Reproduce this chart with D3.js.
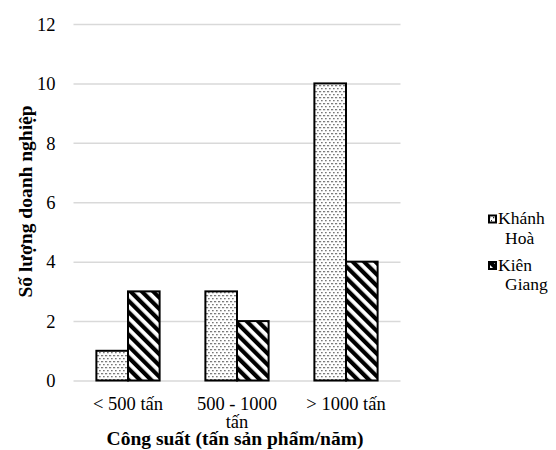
<!DOCTYPE html>
<html><head><meta charset="utf-8">
<script src="https://cdn.jsdelivr.net/npm/d3@7"></script>
<style>body{margin:0;background:#fff}svg{display:block}</style>
</head><body>
<script>
const categories = ["< 500 tấn", "500 - 1000 tấn", "> 1000 tấn"];
const categoryLines = [["< 500 tấn"], ["500 - 1000", "tấn"], ["> 1000 tấn"]];
const seriesNames = ["Khánh Hoà", "Kiên Giang"];
const legendLines = [["Khánh", "Hoà"], ["Kiên", "Giang"]];
const khanhHoa = [1, 3, 10];
const kienGiang = [3, 2, 4];
const yTicks = [0, 2, 4, 6, 8, 10, 12];
const yTitle = "Số lượng doanh nghiệp";
const xTitle = "Công suất (tấn sản phẩm/năm)";

const FONT = "'Liberation Serif', 'Times New Roman', Tinos, 'DejaVu Serif', serif";
const W = 556, H = 450;
const svg = d3.select("body").append("svg").attr("width", W).attr("height", H)
  .attr("font-family", FONT);
const defs = svg.append("defs");
const dots = defs.append("pattern").attr("id", "dots").attr("patternUnits", "userSpaceOnUse")
  .attr("width", 4).attr("height", 6);
dots.append("rect").attr("width", 4).attr("height", 6).attr("fill", "#fff");
dots.append("rect").attr("x", 1).attr("y", 1).attr("width", 1.3).attr("height", 1.3).attr("fill", "#222");
dots.append("rect").attr("x", 3).attr("y", 4).attr("width", 1.3).attr("height", 1.3).attr("fill", "#222");
const hatch = defs.append("pattern").attr("id", "hatch").attr("patternUnits", "userSpaceOnUse")
  .attr("width", 8).attr("height", 8).attr("patternTransform", "rotate(-45)");
hatch.append("rect").attr("width", 8).attr("height", 8).attr("fill", "#fff");
hatch.append("rect").attr("width", 4.2).attr("height", 8).attr("fill", "#000");
const fills = ["url(#dots)", "url(#hatch)"];

const x0 = d3.scaleBand().domain(categories).range([73.5, 400.5]).paddingInner(0.42).paddingOuter(0.21);
const x1 = d3.scaleBand().domain(seriesNames).range([0, x0.bandwidth()]);
const y = d3.scaleLinear().domain([0, 12]).range([380.5, 24]);

const yAxis = d3.axisLeft(y).tickValues(yTicks).tickSize(-(400.5 - 73.5)).tickPadding(18).tickFormat(d3.format("d"));
const gy = svg.append("g").attr("transform", "translate(73.5,0)").call(yAxis);
gy.attr("font-family", FONT);
gy.select(".domain").remove();
gy.selectAll(".tick line").attr("stroke", "#d9d9d9").attr("stroke-width", 1.5);
gy.selectAll(".tick text").attr("font-size", 18.5).attr("fill", "#000").attr("dy", "0.34em");

const data = categories.map((c, i) => ({ c, vals: [khanhHoa[i], kienGiang[i]] }));
const groups = svg.append("g").selectAll("g").data(data).join("g")
  .attr("transform", d => `translate(${x0(d.c)},0)`);
groups.selectAll("rect").data(d => d.vals.map((v, j) => ({ v, s: seriesNames[j], j }))).join("rect")
  .attr("x", d => x1(d.s)).attr("width", x1.bandwidth())
  .attr("y", d => y(d.v)).attr("height", d => y(0) - y(d.v))
  .attr("fill", d => fills[d.j]).attr("stroke", "#000").attr("stroke-width", 2);

const xl = svg.append("g").selectAll("text").data(categories).join("text")
  .attr("x", d => x0(d) + x0.bandwidth() / 2).attr("y", 410)
  .attr("text-anchor", "middle").attr("font-size", 18.5).attr("fill", "#000");
xl.each(function (d, i) {
  const t = d3.select(this);
  categoryLines[i].forEach((ln, k) => t.append("tspan").attr("x", x0(d) + x0.bandwidth() / 2).attr("y", 410 + k * 18).text(ln));
});

svg.append("text").attr("x", 235).attr("y", 445).attr("text-anchor", "middle")
  .attr("font-size", 19.5).attr("font-weight", "bold").text(xTitle);
svg.append("text").attr("transform", "translate(32,201.5) rotate(-90)").attr("text-anchor", "middle")
  .attr("font-size", 19.5).attr("font-weight", "bold").text(yTitle);

const leg = svg.append("g").selectAll("g").data(seriesNames).join("g")
  .attr("transform", (d, i) => `translate(0,${i * 46.5})`);
leg.append("rect").attr("x", 489).attr("y", 215.5).attr("width", 7).attr("height", 7)
  .attr("fill", (d, i) => fills[i]).attr("stroke", "#000").attr("stroke-width", 2);
leg.each(function (d, i) {
  const g = d3.select(this);
  legendLines[i].forEach((ln, k) => g.append("text").attr("x", k === 0 ? 498 : 505).attr("y", 224 + k * 19.5)
    .attr("font-size", 17.5).attr("fill", "#000").text(ln));
});
</script>
</body></html>
